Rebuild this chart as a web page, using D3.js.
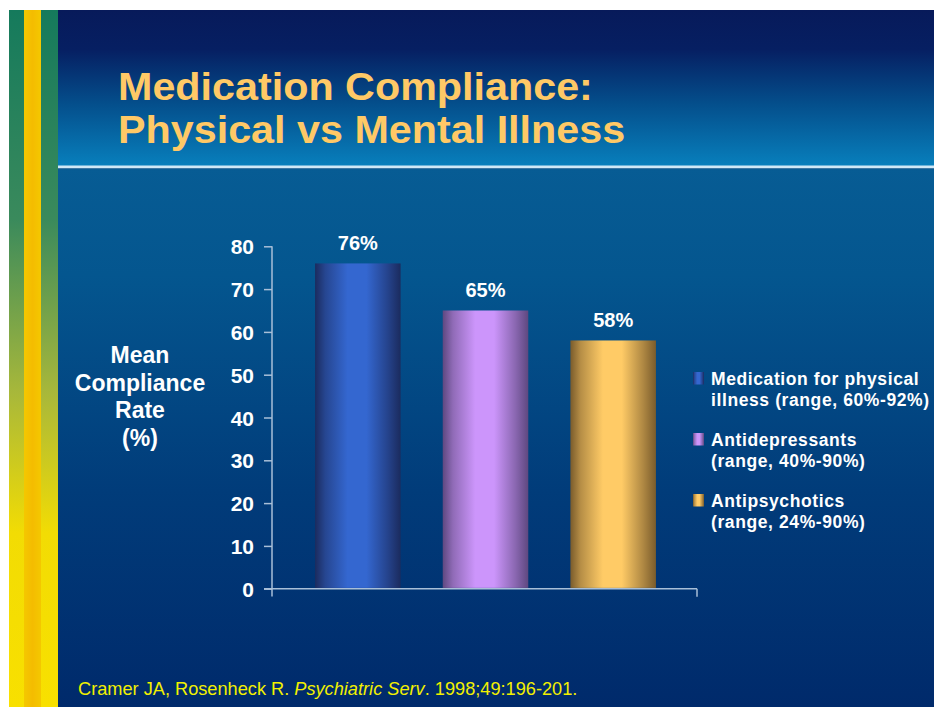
<!DOCTYPE html>
<html>
<head>
<meta charset="utf-8">
<script src="https://cdn.jsdelivr.net/npm/d3@7"></script>
<style>
  body { margin: 0; background: #fff; }
  svg { display: block; font-family: "Liberation Sans", Arial, sans-serif; }
</style>
</head>
<body>
<svg id="slide"></svg>
<script>
  // chart data
  var categories = ["Medication for physical illness", "Antidepressants", "Antipsychotics"]
  var values = [76, 65, 58]
  var valueLabels = ["76%", "65%", "58%"]
  var legendLines = [
    ["Medication for physical", "illness (range, 60%-92%)"],
    ["Antidepressants", "(range, 40%-90%)"],
    ["Antipsychotics", "(range, 24%-90%)"]
  ]
  var yTicks = [0, 10, 20, 30, 40, 50, 60, 70, 80]
  var yLabelLines = ["Mean", "Compliance", "Rate", "(%)"]
  var titleLines = ["Medication Compliance:", "Physical vs Mental Illness"]

  // bar shading: edge colour, highlight colour
  var barColors = [
    ["#1b2b5e", "#3467d0"],
    ["#5e4880", "#cc95fb"],
    ["#7a5c2c", "#ffcb66"]
  ]

  var width = 934
  var height = 707

  var svg = d3.select("#slide").attr("width", width).attr("height", height)
  var defs = svg.append("defs")

  // background gradients
  var topGrad = defs.append("linearGradient").attr("id", "topGrad")
    .attr("x1", 0).attr("y1", 0).attr("x2", 0).attr("y2", 1)
  topGrad.append("stop").attr("offset", "0%").attr("stop-color", "#071a5a")
  topGrad.append("stop").attr("offset", "25%").attr("stop-color", "#061f62")
  topGrad.append("stop").attr("offset", "60%").attr("stop-color", "#044f8c")
  topGrad.append("stop").attr("offset", "100%").attr("stop-color", "#0880bd")

  var bodyGrad = defs.append("linearGradient").attr("id", "bodyGrad")
    .attr("x1", 0).attr("y1", 0).attr("x2", 0).attr("y2", 1)
  bodyGrad.append("stop").attr("offset", "0%").attr("stop-color", "#075c94")
  bodyGrad.append("stop").attr("offset", "20%").attr("stop-color", "#04568f")
  bodyGrad.append("stop").attr("offset", "60%").attr("stop-color", "#013c7a")
  bodyGrad.append("stop").attr("offset", "100%").attr("stop-color", "#002a6b")

  var outerStripe = defs.append("linearGradient").attr("id", "outerStripe")
    .attr("x1", 0).attr("y1", 0).attr("x2", 0).attr("y2", 1)
  outerStripe.append("stop").attr("offset", "0%").attr("stop-color", "#157a5c")
  outerStripe.append("stop").attr("offset", "30%").attr("stop-color", "#3a8a5c")
  outerStripe.append("stop").attr("offset", "55%").attr("stop-color", "#a8b83a")
  outerStripe.append("stop").attr("offset", "75%").attr("stop-color", "#f2dc04")
  outerStripe.append("stop").attr("offset", "100%").attr("stop-color", "#f8e000")

  var innerStripe = defs.append("linearGradient").attr("id", "innerStripe")
    .attr("x1", 0).attr("y1", 0).attr("x2", 1).attr("y2", 0)
  innerStripe.append("stop").attr("offset", "0%").attr("stop-color", "#f4c800")
  innerStripe.append("stop").attr("offset", "50%").attr("stop-color", "#f4bc00")
  innerStripe.append("stop").attr("offset", "100%").attr("stop-color", "#f4c800")

  svg.append("rect").attr("x", 58).attr("y", 10).attr("width", width - 58).attr("height", 157)
    .attr("fill", "url(#topGrad)")
  svg.append("rect").attr("x", 58).attr("y", 167).attr("width", width - 58).attr("height", height - 167)
    .attr("fill", "url(#bodyGrad)")

  // left stripes
  svg.append("rect").attr("x", 9).attr("y", 10).attr("width", 49).attr("height", height - 10)
    .attr("fill", "url(#outerStripe)")
  svg.append("rect").attr("x", 24).attr("y", 10).attr("width", 17).attr("height", height - 10)
    .attr("fill", "url(#innerStripe)")

  // divider line under title
  svg.append("rect").attr("x", 58).attr("y", 165.5).attr("width", width - 58).attr("height", 2.5)
    .attr("fill", "#cfe8f6")
  svg.append("rect").attr("x", 58).attr("y", 168).attr("width", width - 58).attr("height", 1)
    .attr("fill", "#3e78a4")

  // title, slightly stretched sideways like the slide font
  svg.append("g").attr("transform", "translate(118,0) scale(1.073,1)")
    .selectAll("text").data(titleLines).enter().append("text")
    .attr("x", 0)
    .attr("y", (d, i) => 100.5 + i * 43)
    .attr("font-size", "38.5px")
    .attr("font-weight", "bold")
    .attr("fill", "#ffc966")
    .text(d => d)

  // scales
  var yScale = d3.scaleLinear().domain([0, 80]).range([588.7, 246.3])
  var xScale = d3.scaleBand()
    .domain(categories)
    .range([294, 677])
    .paddingInner(0.33)
    .paddingOuter(0.165)

  // bar gradients
  barColors.forEach((c, i) => {
    var g = defs.append("linearGradient").attr("id", "bar" + i)
      .attr("x1", 0).attr("y1", 0).attr("x2", 1).attr("y2", 0)
    g.append("stop").attr("offset", "0%").attr("stop-color", c[0])
    g.append("stop").attr("offset", "12%").attr("stop-color", d3.interpolateRgb(c[0], c[1])(0.45))
    g.append("stop").attr("offset", "38%").attr("stop-color", c[1])
    g.append("stop").attr("offset", "60%").attr("stop-color", c[1])
    g.append("stop").attr("offset", "85%").attr("stop-color", d3.interpolateRgb(c[0], c[1])(0.4))
    g.append("stop").attr("offset", "100%").attr("stop-color", c[0])
  })

  var axisColor = "#a9bfd8"

  // y axis
  var yAxis = d3.axisLeft(yScale).tickValues(yTicks).tickSize(8).tickPadding(10)
  var yG = svg.append("g").attr("transform", "translate(272,0)").call(yAxis)
  yG.select(".domain").remove()
  yG.append("line").attr("x1", 0).attr("x2", 0).attr("y1", 246.3).attr("y2", 596.5)
    .attr("stroke", axisColor).attr("stroke-width", 1.5)
  yG.selectAll(".tick line").attr("stroke", axisColor).attr("stroke-width", 1.5)
  yG.selectAll(".tick text")
    .attr("fill", "#ffffff")
    .attr("font-size", "21px")
    .attr("font-weight", "bold")
    .attr("font-family", "Liberation Sans, Arial, sans-serif")
    .attr("dy", "0.36em")

  // x axis line with end tick
  var xEnd = 697
  svg.append("line").attr("x1", 264).attr("x2", xEnd).attr("y1", yScale(0)).attr("y2", yScale(0))
    .attr("stroke", axisColor).attr("stroke-width", 1.5)
  svg.append("line").attr("x1", xEnd).attr("x2", xEnd).attr("y1", yScale(0)).attr("y2", yScale(0) + 8)
    .attr("stroke", axisColor).attr("stroke-width", 1.5)

  // bars
  svg.append("g").selectAll("rect").data(values).enter().append("rect")
    .attr("x", (d, i) => xScale(categories[i]))
    .attr("y", d => yScale(d))
    .attr("width", xScale.bandwidth())
    .attr("height", d => yScale(0) - yScale(d) - 0.8)
    .attr("fill", (d, i) => "url(#bar" + i + ")")

  // value labels
  svg.append("g").selectAll("text").data(values).enter().append("text")
    .attr("x", (d, i) => xScale(categories[i]) + xScale.bandwidth() / 2)
    .attr("y", d => yScale(d) - 13.5)
    .attr("text-anchor", "middle")
    .attr("font-size", "20px")
    .attr("font-weight", "bold")
    .attr("fill", "#ffffff")
    .text((d, i) => valueLabels[i])

  // y axis title
  svg.append("g").selectAll("text").data(yLabelLines).enter().append("text")
    .attr("x", 140)
    .attr("y", (d, i) => 363 + i * 27.5)
    .attr("text-anchor", "middle")
    .attr("font-size", "23px")
    .attr("font-weight", "bold")
    .attr("fill", "#ffffff")
    .text(d => d)

  // legend
  var legendY = [385, 446, 507]
  var legend = svg.append("g").selectAll("g").data(legendLines).enter().append("g")
    .attr("transform", (d, i) => "translate(0," + legendY[i] + ")")
  legend.append("rect")
    .attr("x", 693).attr("y", -13).attr("width", 11).attr("height", 12.5)
    .attr("fill", (d, i) => "url(#bar" + i + ")")
  legend.selectAll("text").data(d => d).enter().append("text")
    .attr("x", 711)
    .attr("y", (d, i) => i * 21)
    .attr("font-size", "17.5px")
    .attr("font-weight", "bold")
    .attr("letter-spacing", "0.6px")
    .attr("fill", "#ffffff")
    .text(d => d)

  // reference
  var ref = svg.append("text")
    .attr("x", 78)
    .attr("y", 695)
    .attr("font-size", "18.2px")
    .attr("fill", "#f2f000")
  ref.append("tspan").text("Cramer JA, Rosenheck R. ")
  ref.append("tspan").attr("font-style", "italic").text("Psychiatric Serv")
  ref.append("tspan").text(". 1998;49:196-201.")
</script>
</body>
</html>
